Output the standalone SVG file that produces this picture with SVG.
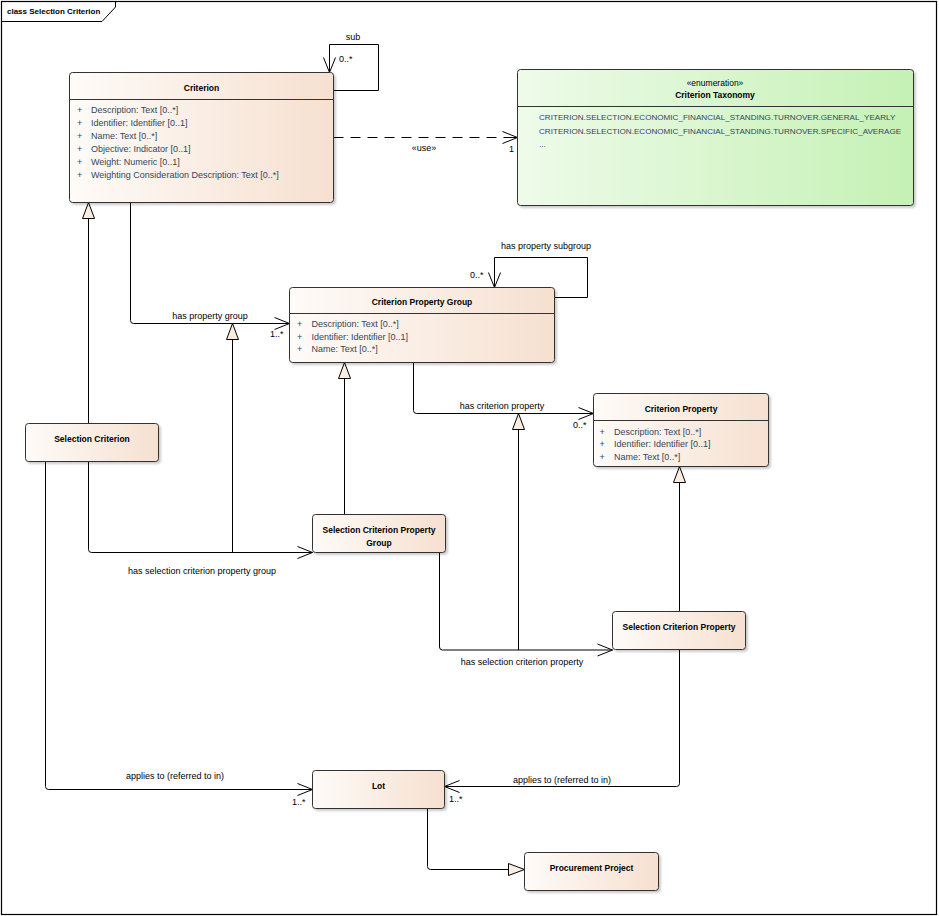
<svg xmlns="http://www.w3.org/2000/svg" width="939" height="916" viewBox="0 0 939 916">
<style>
text{font-family:"Liberation Sans",Arial,sans-serif;font-size:9px;fill:#000}
.t{font-weight:bold;font-size:8.5px;text-anchor:middle}
.a{fill:#35455a}
.e{fill:#35455a;font-size:8.1px}
.m{text-anchor:middle}
.n{fill:url(#gp);stroke:#333;stroke-width:1;filter:url(#sh)}
.g{fill:url(#gg);stroke:#333;stroke-width:1;filter:url(#sh)}
.d{stroke:#333;stroke-width:1}
.c{fill:none;stroke:#000;stroke-width:1}
.o{marker-end:url(#open)}
.tri{marker-end:url(#tri)}
</style>
<defs>
<linearGradient id="gp" x1="0" y1="0" x2="1" y2="0"><stop offset="0" stop-color="#fefbf8"/><stop offset="1" stop-color="#f6e0d0"/></linearGradient>
<linearGradient id="gg" x1="0" y1="0" x2="1" y2="0"><stop offset="0" stop-color="#eefbe9"/><stop offset="1" stop-color="#c5f1b5"/></linearGradient>
<filter id="sh" x="-5%" y="-5%" width="115%" height="130%"><feDropShadow dx="2" dy="2" stdDeviation="1" flood-color="#000" flood-opacity="0.2"/></filter>
<marker id="open" markerUnits="userSpaceOnUse" markerWidth="20" markerHeight="16" viewBox="-17 -8 18 16" refX="0" refY="0" orient="auto"><path d="M-15,-6 L0,0 L-15,6" fill="none" stroke="#000" stroke-width="1" stroke-dasharray="none"/></marker>
<marker id="tri" markerUnits="userSpaceOnUse" markerWidth="20" markerHeight="16" viewBox="-17 -8 18 16" refX="0" refY="0" orient="auto"><path d="M-16,-6 L0,0 L-16,6 Z" fill="#fbeee0" stroke="#000" stroke-width="1"/></marker>
</defs>
<rect x="0" y="0" width="939" height="916" fill="#fff"/>
<g id="frame">
<rect x="1.5" y="1.5" width="935" height="913" fill="none" stroke="#000" stroke-width="1.2"/>
<path d="M1.5,21.5 H102 L115.5,7 V1.5" fill="none" stroke="#000" stroke-width="1"/>
<text x="7" y="14" style="font-weight:bold;font-size:8px">class Selection Criterion</text>
</g>
<g id="connectors">
<path class="c o" d="M333.5,90.5 H378.5 V44.5 H329.5 V72.5"/>
<path class="c" d="M333.5,137.5 H516" stroke-dasharray="10,7"/>
<path class="c o" d="M508,137.5 H517.5"/>
<path class="c tri" d="M88.5,423.5 V202.5"/>
<path class="c o" d="M130.5,202.5 V320.5 Q130.5,323.5 133.5,323.5 H289.5"/>
<path class="c tri" d="M232.5,552.5 V323.5"/>
<path class="c o" d="M88.5,461.5 V549.5 Q88.5,552.5 91.5,552.5 H312.5"/>
<path class="c o" d="M554.5,297.5 H587.5 V257.5 H494.5 V287.5"/>
<path class="c tri" d="M344.5,514.5 V362.5"/>
<path class="c o" d="M413.5,362.5 V410.5 Q413.5,413.5 416.5,413.5 H593.5"/>
<path class="c tri" d="M518.5,650 V413.5"/>
<path class="c o" d="M439.5,552.5 V647 Q439.5,650 442.5,650 H612.5"/>
<path class="c tri" d="M679.5,611.5 V466.5"/>
<path class="c o" d="M45.5,461.5 V786.5 Q45.5,789.5 48.5,789.5 H312.5"/>
<path class="c o" d="M679.5,649.5 V783.5 Q679.5,786.5 676.5,786.5 H444.5"/>
<path class="c tri" d="M427.5,808.5 V866.5 Q427.5,869.5 430.5,869.5 H524.5"/>
<text class="m" x="353" y="40">sub</text>
<text x="339" y="62">0..*</text>
<text class="m" x="424" y="151">«use»</text>
<text x="509" y="152">1</text>
<text class="m" x="210" y="319">has property group</text>
<text x="270" y="337">1..*</text>
<text class="m" x="546" y="249">has property subgroup</text>
<text x="470" y="278">0..*</text>
<text class="m" x="502" y="409">has criterion property</text>
<text x="573" y="428">0..*</text>
<text class="m" x="202" y="574">has selection criterion property group</text>
<text class="m" x="522" y="665">has selection criterion property</text>
<text class="m" x="175" y="779">applies to (referred to in)</text>
<text x="292" y="805">1..*</text>
<text class="m" x="562" y="783">applies to (referred to in)</text>
<text x="449" y="802">1..*</text>
</g>
<g id="criterion">
<rect class="n" x="69.5" y="72.5" width="264" height="130" rx="3"/>
<line class="d" x1="69.5" y1="99.5" x2="333.5" y2="99.5"/>
<text class="t" x="201.5" y="91">Criterion</text>
<text class="a" x="77" y="113">+</text><text class="a" x="91" y="113">Description: Text [0..*]</text>
<text class="a" x="77" y="126">+</text><text class="a" x="91" y="126">Identifier: Identifier [0..1]</text>
<text class="a" x="77" y="139">+</text><text class="a" x="91" y="139">Name: Text [0..*]</text>
<text class="a" x="77" y="152">+</text><text class="a" x="91" y="152">Objective: Indicator [0..1]</text>
<text class="a" x="77" y="165">+</text><text class="a" x="91" y="165">Weight: Numeric [0..1]</text>
<text class="a" x="77" y="178">+</text><text class="a" x="91" y="178">Weighting Consideration Description: Text [0..*]</text>
</g>
<g id="criterion-taxonomy">
<rect class="g" x="517.5" y="69.5" width="396" height="136" rx="3"/>
<line class="d" x1="517.5" y1="106.5" x2="913.5" y2="106.5"/>
<text class="m" x="715" y="85.5" style="font-size:8.5px">«enumeration»</text>
<text class="t" x="715" y="98">Criterion Taxonomy</text>
<text class="e" x="539" y="120">CRITERION.SELECTION.ECONOMIC_FINANCIAL_STANDING.TURNOVER.GENERAL_YEARLY</text>
<text class="e" x="539" y="133.5">CRITERION.SELECTION.ECONOMIC_FINANCIAL_STANDING.TURNOVER.SPECIFIC_AVERAGE</text>
<text class="e" x="539" y="146.5">...</text>
</g>
<g id="criterion-property-group">
<rect class="n" x="289.5" y="287.5" width="265" height="75" rx="3"/>
<line class="d" x1="289.5" y1="313.5" x2="554.5" y2="313.5"/>
<text class="t" x="422" y="305">Criterion Property Group</text>
<text class="a" x="297" y="327">+</text><text class="a" x="311.5" y="327">Description: Text [0..*]</text>
<text class="a" x="297" y="339.7">+</text><text class="a" x="311.5" y="339.7">Identifier: Identifier [0..1]</text>
<text class="a" x="297" y="352.3">+</text><text class="a" x="311.5" y="352.3">Name: Text [0..*]</text>
</g>
<g id="criterion-property">
<rect class="n" x="593.5" y="393.5" width="175" height="73" rx="3"/>
<line class="d" x1="593.5" y1="420.5" x2="768.5" y2="420.5"/>
<text class="t" x="681" y="412.3">Criterion Property</text>
<text class="a" x="599.5" y="434.7">+</text><text class="a" x="614" y="434.7">Description: Text [0..*]</text>
<text class="a" x="599.5" y="447">+</text><text class="a" x="614" y="447">Identifier: Identifier [0..1]</text>
<text class="a" x="599.5" y="459.7">+</text><text class="a" x="614" y="459.7">Name: Text [0..*]</text>
</g>
<g id="selection-criterion">
<rect class="n" x="25.5" y="423.5" width="133" height="38" rx="3"/>
<text class="t" x="92" y="442">Selection Criterion</text>
</g>
<g id="selection-criterion-property-group">
<rect class="n" x="312.5" y="514.5" width="133" height="38" rx="3"/>
<text class="t" x="379" y="533">Selection Criterion Property</text>
<text class="t" x="379" y="546.3">Group</text>
</g>
<g id="selection-criterion-property">
<rect class="n" x="612.5" y="611.5" width="133" height="38" rx="3"/>
<text class="t" x="679" y="630">Selection Criterion Property</text>
</g>
<g id="lot">
<rect class="n" x="312.5" y="770.5" width="132" height="38" rx="3"/>
<text class="t" x="378.5" y="789">Lot</text>
</g>
<g id="procurement-project">
<rect class="n" x="524.5" y="852.5" width="134" height="38" rx="3"/>
<text class="t" x="591.5" y="871">Procurement Project</text>
</g>
</svg>
